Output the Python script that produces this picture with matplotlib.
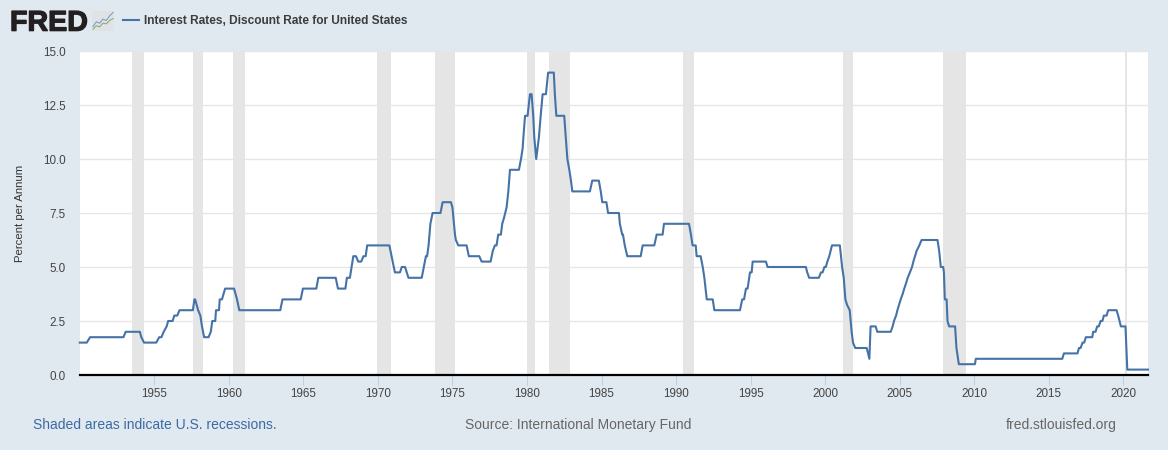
import matplotlib
matplotlib.use("Agg")
import matplotlib.pyplot as plt
import matplotlib.patheffects as pe
from matplotlib.patches import Rectangle

W, H = 1168, 450
BG = "#e1e9f0"
LINE = "#4572a7"
plt.rcParams['font.family'] = ['Liberation Sans', 'DejaVu Sans']

series_name = "Interest Rates, Discount Rate for United States"
y_label = "Percent per Annum"
y_ticks = [0.0, 2.5, 5.0, 7.5, 10.0, 12.5, 15.0]
x_ticks = list(range(1955, 2021, 5))

rec_start = [1953.5, 1957.6, 1960.27, 1969.92, 1973.83, 1980.0, 1981.5, 1990.5, 2001.17, 2007.92, 2020.15]
rec_end = [1954.33, 1958.27, 1961.08, 1970.87, 1975.2, 1980.55, 1982.87, 1991.2, 2001.87, 2009.45, 2020.28]

dates_50s = [1950.0,1950.47,1950.69,1952.93,1953.08,1954.03,1954.13,1954.31,1955.13,1955.33,1955.48,1955.63,
             1955.83,1955.93,1956.23,1956.34,1956.54,1956.69,1957.59,1957.69,1957.74,1957.94,1958.09,1958.2,
             1958.34,1958.64,1958.79,1958.89,1959.09,1959.14,1959.34,1959.39,1959.54,1959.75]
rates_50s = [1.5,1.5,1.75,1.75,2,2,1.75,1.5,1.5,1.75,1.75,2,
             2.25,2.5,2.5,2.75,2.75,3,3,3.5,3.5,3,2.75,2.25,
             1.75,1.75,2,2.5,2.5,3,3,3.5,3.5,4]

dates_60s = [1960.35,1960.55,1960.7,1963.45,1963.6,1964.82,1964.97,1965.87,1966.0,1967.17,1967.32,1967.82,
             1967.92,1968.12,1968.35,1968.53,1968.68,1968.88,1969.03,1969.18,1969.28]
rates_60s = [4,3.5,3,3,3.5,3.5,4,4,4.5,4.5,4,4,
             4.5,4.5,5.5,5.5,5.25,5.25,5.5,5.5,6]

dates_70s = [1970.77,1971.14,1971.48,1971.6,1971.82,1972.05,1972.94,1973.08,1973.22,1973.3,1973.4,1973.52,1973.67,
             1974.2,1974.34,1974.9,1975.0,1975.17,1975.23,1975.39,1975.95,1976.1,1976.8,1976.96,1977.56,1977.71,
             1977.85,1977.96,1978.07,1978.25,1978.34,1978.45,1978.63,1978.75,1978.86,1979.46,1979.6,1979.71,1979.76,1979.87]
rates_70s = [6,4.75,4.75,5,5,4.5,4.5,5,5.5,5.5,6,7,7.5,
             7.5,8,8,7.75,6.5,6.25,6,6,5.5,5.5,5.25,5.25,5.75,
             6,6,6.5,6.5,7,7.25,7.75,8.5,9.5,9.5,10,10.5,11,12]

dates_80s = [1980.04,1980.2,1980.31,1980.42,1980.49,1980.62,1980.8,1980.92,1981.05,1981.27,1981.42,1981.8,1981.87,
             1981.97,1982.5,1982.55,1982.71,1982.84,1982.95,1983.04,1984.22,1984.38,1984.82,1984.95,1985.05,1985.33,
             1985.44,1986.17,1986.23,1986.39,1986.44,1986.56,1986.73,1987.63,1987.76,1988.54,1988.7,1989.1,1989.19]
rates_80s = [12,13,13,12,11,10,11,12,13,13,14,14,13,
             12,12,11.5,10,9.5,9,8.5,8.5,9,9,8.5,8,8,
             7.5,7.5,7,6.5,6.5,6,5.5,5.5,6,6,6.5,6.5,7]

dates_90s = [1990.87,1991.0,1991.11,1991.32,1991.38,1991.65,1991.79,1991.9,1992.06,1992.46,1992.57,1994.29,1994.44,
             1994.56,1994.69,1994.8,1994.96,1995.07,1995.14,1996.03,1996.14,1998.71,1998.8,1998.93,1999.58,1999.72,1999.83,1999.95]
rates_90s = [7,6.5,6,6,5.5,5.5,5,4.5,3.5,3.5,3,3,3.5,
             3.5,4,4,4.75,4.75,5.25,5.25,5,5,4.75,4.5,4.5,4.75,4.75,5]

dates_00s = [2000.05,2000.15,2000.28,2000.46,2000.99,2001.14,2001.25,2001.36,2001.47,2001.65,2001.78,2001.87,2002.02,
             2002.79,2002.97,2003.05,2003.39,2003.5,2004.4,2004.53,2004.62,2004.76,2004.85,2004.96,2005.07,2005.2,
             2005.31,2005.43,2005.54,2005.69,2005.83,2005.92,2006.03,2006.14,2006.32,2006.47,2007.54,2007.65,2007.76,
             2007.92,2007.97,2008.03,2008.15,2008.21,2008.32,2008.72,2008.81,2008.97]
rates_00s = [5,5.25,5.5,6,6,5,4.5,3.5,3.25,3,2,1.5,1.25,
             1.25,0.75,2.25,2.25,2,2,2.25,2.5,2.75,3,3.25,3.5,3.75,
             4,4.25,4.5,4.75,5,5.25,5.5,5.75,6,6.25,6.25,5.75,5,
             5,4.75,3.5,3.5,2.5,2.25,2.25,1.25,0.5]

dates_10s = [2010.05,2010.11,2015.91,2016.02,2016.93,2017.03,2017.14,2017.27,2017.38,2017.49,2017.92,2017.98,2018.14,
             2018.25,2018.36,2018.48,2018.6,2018.7,2018.88,2018.99,2019.55,2019.66,2019.84,2020.15,2020.27,2021.66]
rates_10s = [0.5,0.75,0.75,1,1,1.25,1.25,1.5,1.5,1.75,1.75,2,2,
             2.25,2.25,2.5,2.5,2.75,2.75,3,3,2.75,2.25,2.25,0.25,0.25]

dates = dates_50s + dates_60s + dates_70s + dates_80s + dates_90s + dates_00s + dates_10s
rates = rates_50s + rates_60s + rates_70s + rates_80s + rates_90s + rates_00s + rates_10s

icon_x = [0, 1, 2, 3, 4, 5, 6]
icon_blue = [1.2, 2.6, 2.2, 3.4, 3.0, 4.4, 5.4]
icon_green = [0.4, 1.4, 1.1, 2.2, 2.0, 3.0, 3.6]

fig = plt.figure(figsize=(W / 100, H / 100), dpi=100, facecolor=BG)


def fx(px):
    return px / W


def fy(py):
    return 1 - py / H


ax = fig.add_axes([fx(80), fy(375), (1148 - 80) / W, (375 - 51) / H], facecolor="white")
ax.set_xlim(1950.016, 2021.66)
ax.set_ylim(0, 15)

ax.grid(axis="y", color="#e6e6e6", linewidth=1.0, zorder=1)
ax.set_axisbelow(True)
for s, e in zip(rec_start, rec_end):
    ax.axvspan(s, e, facecolor="#e5e5e5", edgecolor="none", zorder=1.5)

ax.plot(dates, rates, color=LINE, linewidth=1.5, solid_joinstyle="round", zorder=3, clip_on=False)

for side in ("top", "left", "right"):
    ax.spines[side].set_visible(False)
ax.spines["bottom"].set_color("black")
ax.spines["bottom"].set_linewidth(1.6)
ax.spines["bottom"].set_zorder(4)

ax.set_yticks(y_ticks, [f"{v:.1f}" for v in y_ticks])
ax.set_xticks(x_ticks, [str(v) for v in x_ticks])
ax.tick_params(axis="y", length=0, pad=10.5, labelsize=8.4, labelcolor="#444444")
ax.tick_params(axis="x", length=7, width=0.8, color="#c0d0e0", pad=2.6, labelsize=8.4, labelcolor="#444444")

fig.text(fx(20.5), fy(213), y_label, rotation=90, ha="center", va="center", fontsize=8.2, color="#333333")

# header
fred = fig.text(fx(10), fy(30.7), "FRED", fontsize=20.6, fontweight="bold", color="#231f20", ha="left", va="baseline")
fred.set_path_effects([pe.withStroke(linewidth=0.9, foreground="#231f20")])
icon = fig.add_axes([fx(92), fy(30.5), 22 / W, 20 / H], facecolor="#dfe3e6")
icon.add_patch(Rectangle((-0.3, 0), 6.6, 6, facecolor="#dfe3e6", edgecolor="none", zorder=0))
icon.plot(icon_x, icon_blue, color="#7f9fc6", linewidth=0.8)
icon.plot(icon_x, icon_green, color="#8fae70", linewidth=0.8)
icon.set_xlim(-0.3, 6.3)
icon.set_ylim(0, 6)
icon.axis("off")

fig.add_artist(plt.Line2D([fx(123), fx(139)], [fy(20), fy(20)], color=LINE, linewidth=1.5))
fig.text(fx(144), fy(20.5), series_name, fontsize=8.58, fontweight="bold", color="#3c3c3c", ha="left", va="center")

# footer
fig.text(fx(33), fy(425), "Shaded areas indicate U.S. recessions.", fontsize=10.03, color="#3a6aa5", ha="left", va="center")
fig.text(fx(465), fy(425), "Source: International Monetary Fund", fontsize=10.03, color="#666666", ha="left", va="center")
fig.text(fx(1117), fy(425), "fred.stlouisfed.org", fontsize=10.03, color="#666666", ha="right", va="center")

fig.savefig("out.png", dpi=100, facecolor=BG)
